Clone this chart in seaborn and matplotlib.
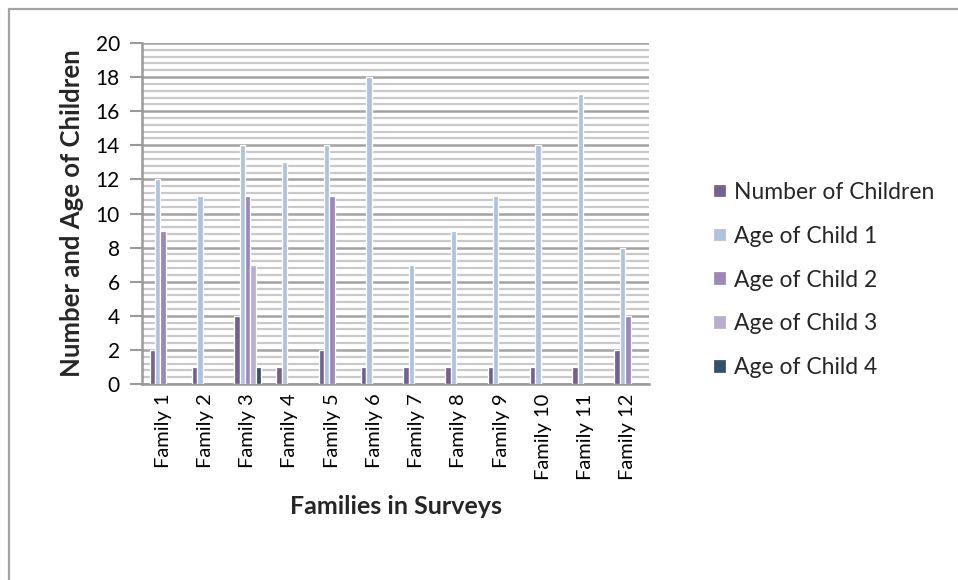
import numpy as np
import pandas as pd
import matplotlib
matplotlib.use("Agg")
import matplotlib.pyplot as plt
from matplotlib.patches import Rectangle
from matplotlib.ticker import MultipleLocator
import seaborn as sns

families = [f"Family {i}" for i in range(1, 13)]
number_of_children = [2, 1, 4, 1, 2, 1, 1, 1, 1, 1, 1, 2]
age_child_1 = [12, 11, 14, 13, 14, 18, 7, 9, 11, 14, 17, 8]
age_child_2 = [9, None, 11, None, 11, None, None, None, None, None, None, 4]
age_child_3 = [None, None, 7, None, None, None, None, None, None, None, None, None]
age_child_4 = [None, None, 1, None, None, None, None, None, None, None, None, None]

series_names = ["Number of Children", "Age of Child 1", "Age of Child 2",
                "Age of Child 3", "Age of Child 4"]
series_values = [number_of_children, age_child_1, age_child_2, age_child_3, age_child_4]
series_colors = ["#6E5A99", "#A7C2E4", "#9A80C2", "#B9AACF", "#2D5178"]

rows = []
for name, vals in zip(series_names, series_values):
    for fam, v in zip(families, vals):
        if v is not None:
            rows.append({"Family": fam, "Series": name, "Value": v})
df = pd.DataFrame(rows)

sns.set_theme(style="white")
plt.rcParams["font.family"] = ["Lato", "DejaVu Sans"]

fig = plt.figure(figsize=(9.58, 5.8), dpi=100)
ax = fig.add_axes([142 / 958, 1 - 384 / 580, 507 / 958, 341 / 580])

sns.barplot(data=df, x="Family", y="Value", hue="Series",
            order=families, hue_order=series_names,
            palette=series_colors, width=0.64, errorbar=None,
            edgecolor="white", linewidth=0.9, ax=ax, zorder=3)

ax.set_ylim(0, 20)
ax.set_xlim(-0.5, 11.5)
ax.yaxis.set_major_locator(MultipleLocator(2))
ax.yaxis.set_minor_locator(MultipleLocator(0.4))
ax.grid(which="minor", axis="y", color="#C9C9C9", linewidth=1.6, zorder=0)
ax.grid(which="major", axis="y", color="#A3A3A3", linewidth=1.8, zorder=1)
ax.set_axisbelow(True)

for side in ["top", "right"]:
    ax.spines[side].set_visible(False)
for side in ["left", "bottom"]:
    ax.spines[side].set_color("#9A9A9A")
    ax.spines[side].set_linewidth(1.8)

ax.tick_params(axis="y", which="major", direction="out", length=9, width=1.5,
               color="#9A9A9A", labelsize=15, pad=7, left=True)
ax.tick_params(axis="y", which="minor", length=0)
ax.tick_params(axis="x", length=0, labelsize=14.5, pad=7, labelrotation=90)
for lbl in ax.get_yticklabels() + ax.get_xticklabels():
    lbl.set_color("black")

ax.set_xlabel("Families in Surveys", fontsize=18, fontweight="bold", labelpad=11)
ax.set_ylabel("Number and Age of Children", fontsize=18.5, fontweight="bold", labelpad=8)

handles, labels = ax.get_legend_handles_labels()
ax.legend(handles, labels, loc="center left",
          bbox_to_anchor=(713 / 958, 1 - 280 / 580), bbox_transform=fig.transFigure,
          frameon=False, fontsize=16.5, handlelength=0.55, handleheight=0.55,
          handletextpad=0.35, labelspacing=1.0, borderpad=0, borderaxespad=0)

# outer chart frame
fig.patches.append(Rectangle((9 / 958, -0.05), 1.1, 1 - 9 / 580 + 0.05,
                             transform=fig.transFigure, fill=False,
                             edgecolor="#A3A3A3", linewidth=1.6))

fig.savefig("out.png", dpi=100)
